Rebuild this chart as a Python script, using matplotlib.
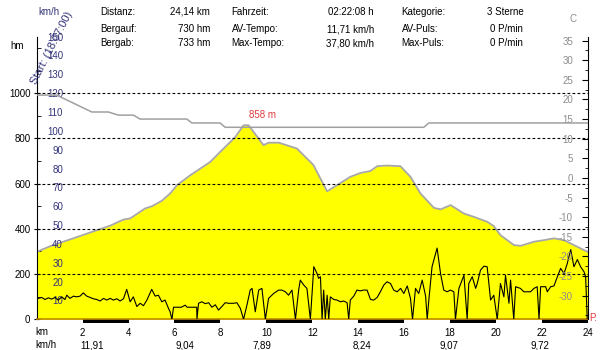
import matplotlib.pyplot as plt
from matplotlib.patches import Rectangle
from matplotlib.ticker import MultipleLocator

plt.rcParams['font.family'] = ['Liberation Sans', 'DejaVu Sans']
plt.rcParams['axes.unicode_minus'] = False

# Höhenprofil: Strecke in km, Höhe in hm
elev_km = [0.00, 0.58, 1.45, 2.62, 3.20, 3.78, 4.07, 4.72, 5.02, 5.45, 5.81, 6.11,
           6.69, 7.56, 8.07, 8.65, 9.01, 9.23, 9.88, 10.10, 10.54, 11.34, 11.48,
           11.92, 12.06, 12.36, 12.65, 13.08, 13.66, 14.10, 14.54, 14.83, 15.26,
           15.84, 16.28, 16.72, 17.30, 17.59, 18.03, 18.60, 19.04, 19.63, 19.91,
           20.20, 20.79, 21.08, 21.66, 22.09, 22.53, 22.97, 23.40, 24.00]
elev_hm = [298, 323, 353, 394, 414, 441, 446, 490, 500, 524, 556, 593,
           637, 696, 748, 806, 858, 858, 770, 781, 781, 755, 740,
           696, 681, 622, 566, 593, 630, 647, 656, 677, 680,
           677, 630, 556, 493, 486, 505, 468, 453, 431, 412,
           372, 328, 325, 343, 350, 358, 350, 328, 298]

# Temperatur in Grad C
temp_km = [0.0, 0.87, 2.40, 3.12, 3.56, 4.21, 4.50, 6.54, 6.76, 7.99, 8.21, 16.86, 17.08, 24.0]
temp_c = [21.1, 21.1, 16.8, 16.8, 16.0, 16.0, 15.0, 15.0, 14.0, 14.0, 12.9, 12.9, 14.0, 14.0]

# Geschwindigkeit in km/h
speed_km = [0.00, 0.02, 0.07, 0.22, 0.36, 0.51, 0.65, 0.80, 0.94, 1.09, 1.23, 1.31,
            1.45, 1.60, 1.74, 1.89, 2.03, 2.18, 2.32, 2.47, 2.62, 2.76, 2.91, 3.05,
            3.20, 3.34, 3.49, 3.63, 3.78, 3.92, 4.07, 4.21, 4.36, 4.51, 4.65, 4.80,
            5.01, 5.16, 5.30, 5.45, 5.59, 5.74, 5.81, 5.89, 5.96, 6.30, 6.47, 6.55,
            6.97, 6.98, 7.05, 7.19, 7.34, 7.49, 7.63, 7.78, 7.92, 8.07, 8.21, 8.36,
            8.58, 8.72, 8.87, 9.01, 9.16, 9.30, 9.38, 9.52, 9.67, 9.81, 9.96, 10.10,
            10.32, 10.54, 10.68, 10.83, 10.97, 11.12, 11.27, 11.41, 11.48, 11.63,
            11.77, 11.92, 12.07, 12.21, 12.28, 12.36, 12.43, 12.50, 12.57, 12.65,
            12.72, 12.79, 12.94, 13.08, 13.23, 13.37, 13.52, 13.59, 13.66, 13.81,
            13.95, 14.10, 14.24, 14.39, 14.54, 14.68, 14.83, 14.97, 15.12, 15.26,
            15.41, 15.55, 15.70, 15.85, 15.99, 16.14, 16.28, 16.37, 16.50, 16.64,
            16.79, 16.94, 17.01, 17.08, 17.22, 17.44, 17.59, 17.73, 17.88, 18.02,
            18.17, 18.24, 18.39, 18.61, 18.75, 18.82, 18.97, 19.12, 19.19, 19.33,
            19.48, 19.62, 19.77, 19.91, 20.06, 20.20, 20.35, 20.42, 20.57, 20.64,
            20.78, 20.86, 21.07, 21.22, 21.37, 21.51, 21.66, 21.80, 21.88, 21.95,
            22.17, 22.24, 22.39, 22.53, 22.68, 22.82, 22.97, 23.11, 23.26, 23.40,
            23.55, 23.69, 23.84, 23.91, 23.98]
speed_kmh = [0.0, 11.1, 11.1, 11.6, 10.5, 11.4, 10.7, 11.6, 10.2, 11.9, 10.5, 12.8,
             11.1, 12.3, 11.9, 12.3, 14.0, 12.3, 11.6, 10.9, 10.5, 9.7, 11.1, 10.2,
             11.1, 10.2, 10.9, 9.7, 10.9, 15.9, 9.3, 11.9, 6.8, 8.5, 7.2, 10.2,
             15.9, 12.3, 12.8, 9.3, 10.2, 5.8, 4.0, 0.0, 6.4, 6.4, 7.5, 6.4,
             6.4, 0.0, 8.5, 9.3, 8.3, 8.8, 6.4, 7.7, 4.9, 6.8, 8.8, 8.5,
             8.5, 8.8, 5.8, 0.0, 7.7, 15.5, 16.4, 4.0, 15.5, 16.4, 0.0, 11.1,
             13.7, 15.5, 15.5, 14.6, 12.8, 15.5, 0.0, 15.5, 20.8, 18.2,
             16.4, 0.0, 27.9, 24.3, 21.7, 22.6, 0.0, 15.5, 0.0, 12.8,
             0.0, 11.9, 10.5, 10.2, 9.3, 9.7, 8.8, 0.0, 10.2, 12.3,
             15.5, 15.1, 15.5, 15.5, 10.5, 10.2, 11.6, 14.6, 18.2, 19.9,
             19.0, 15.5, 14.6, 16.4, 13.7, 17.7, 11.1, 0.0, 16.4, 13.7,
             20.8, 12.3, 0.0, 10.2, 27.9, 37.8, 24.3, 15.5, 14.6, 15.5,
             14.6, 0.0, 16.4, 23.4, 0.0, 19.0, 22.6, 16.4, 19.0, 26.1,
             28.2, 27.9, 10.2, 12.8, 0.0, 19.0, 11.9, 23.4, 8.5, 20.8,
             0.0, 17.3, 16.4, 14.6, 14.6, 14.6, 16.4, 17.3, 0.0, 17.3,
             17.3, 14.6, 17.3, 17.7, 22.6, 27.0, 24.3, 29.6, 37.0, 27.9,
             31.7, 27.9, 25.2, 22.6, 0.0]

# Kennzahlen der Tour
stat_labels = [["Distanz:", "Bergauf:", "Bergab:"],
               ["Fahrzeit:", "AV-Tempo:", "Max-Tempo:"],
               ["Kategorie:", "AV-Puls:", "Max-Puls:"]]
stat_values = [["24,14 km", "730 hm", "733 hm"],
               ["02:22:08 h", "11,71 km/h", "37,80 km/h"],
               ["3 Sterne", "0 P/min", "0 P/min"]]

# Durchschnittstempo je Abschnitt
avg_speeds = ["11,91", "9,04", "7,89", "8,24", "9,07", "9,72"]

W, H = 600, 350
NAVY = '#33337a'
GRAY = '#8c8c8c'
fs = 7

fig = plt.figure(figsize=(6, 3.5), dpi=100)


def ftext(x, y, s, **kw):
    fig.text(x / W, 1 - y / H, s, fontsize=kw.pop('fontsize', fs), va=kw.pop('va', 'center'), **kw)


ax = fig.add_axes([36.7 / W, 30.7 / H, 551 / W, 282.7 / H])
ax.set_xlim(0, 24)
ax.set_ylim(0, 1250)

# Höhenprofil
ax.fill_between(elev_km, elev_hm, 0, color='#ffff00', lw=0, zorder=1)
ax.plot(elev_km, elev_hm, color='#a8a8a8', lw=1.3, zorder=2)
for h in range(200, 1001, 200):
    ax.axhline(h, color='black', lw=0.8, ls=(0, (2.5, 2)), zorder=3)

peak = max(elev_hm)
peak_km = elev_km[len(elev_hm) - 1 - elev_hm[::-1].index(peak)]
ax.annotate(f"{peak} m", xy=(peak_km, peak), xytext=(0, 4), textcoords='offset points',
            ha='left', va='bottom', color='#e03c3c', fontsize=fs)

for side in ['top', 'right']:
    ax.spines[side].set_visible(False)
ax.spines['bottom'].set_color('#c08a00')
ax.spines['bottom'].set_linewidth(1.2)
ax.yaxis.set_major_locator(MultipleLocator(200))
ax.yaxis.set_minor_locator(MultipleLocator(100))
ax.set_yticks(range(0, 1001, 200))
ax.tick_params(axis='y', which='major', direction='inout', length=5, labelsize=fs, pad=2)
ax.tick_params(axis='y', which='minor', direction='in', length=3)
ax.set_xticks(range(2, 25, 2))
ax.tick_params(axis='x', length=0, labelsize=fs, pad=6.5)

# Streckenbalken unter der Achse
for k in range(2, 24, 4):
    ax.add_patch(Rectangle((k, -0.013), 2, 0.013, transform=ax.get_xaxis_transform(),
                           color='black', clip_on=False, lw=0))

# Tempo
ax_v = ax.twinx()
ax_v.set_ylim(0, 150)
ax_v.plot(speed_km, speed_kmh, color='black', lw=0.8)
ax_v.yaxis.tick_left()
ax_v.set_yticks(range(10, 151, 10))
ax_v.tick_params(axis='y', length=0, labelsize=fs, labelcolor=NAVY, pad=-18.9)
for lbl in ax_v.get_yticklabels():
    lbl.set_ha('right')
for s in ax_v.spines.values():
    s.set_visible(False)

# Temperatur
ax_t = ax.twinx()
ax_t.set_ylim(-36, 36)
ax_t.plot(temp_km, temp_c, color='#a0a0a0', lw=1.1)
ax_t.set_yticks(range(-30, 36, 5))
ax_t.yaxis.set_minor_locator(MultipleLocator(2.5))
ax_t.tick_params(axis='y', which='major', direction='in', length=4, labelsize=fs,
                 labelcolor=GRAY, pad=-10.6)
ax_t.tick_params(axis='y', which='minor', direction='in', length=2)
for lbl in ax_t.get_yticklabels():
    lbl.set_ha('right')
for side in ['top', 'left', 'bottom']:
    ax_t.spines[side].set_visible(False)

# Kopfzeile mit Kennzahlen
label_x = [100, 231.7, 401.7]
value_x = [210, 374, 523.3]
row_y = [12, 29.5, 43]
for c in range(3):
    for r in range(3):
        ftext(label_x[c], row_y[r], stat_labels[c][r], ha='left')
        ftext(value_x[c], row_y[r], stat_values[c][r], ha='right')

ftext(38, 12, "km/h", ha='left', color=NAVY)
ftext(10, 46, "hm", ha='left')
ftext(569, 19, "C", ha='left', color=GRAY)
ftext(38, 86, "Start: (18:07:00)", ha='left', va='bottom', rotation=63,
      rotation_mode='anchor', color=NAVY, fontsize=8)
ftext(589, 318, "P.", ha='left', color='#e03c3c')

# Fußzeile
ftext(35, 332, "km", ha='left')
ftext(35, 345, "km/h", ha='left')
avg_x = [92.5, 185, 261.7, 361.7, 449, 540]
for x, s in zip(avg_x, avg_speeds):
    ftext(x, 345, s, ha='center')

fig.savefig('out.png', dpi=100)
